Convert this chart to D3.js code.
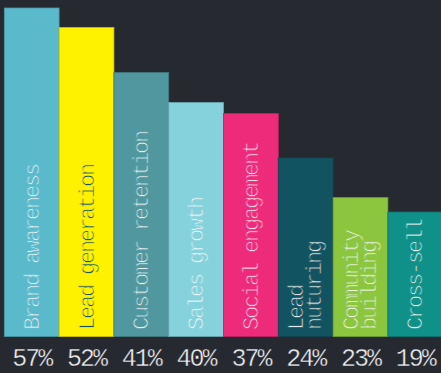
<!DOCTYPE html>
<html>
<head>
<meta charset="utf-8">
<script src="https://cdn.jsdelivr.net/npm/d3@7"></script>
<style>
  html, body { margin: 0; padding: 0; background: #262930; }
  svg { display: block; }
</style>
</head>
<body>
<script>
// ---- data ----
const categories = ["Brand awareness", "Lead generation", "Customer retention", "Sales growth",
  "Social engagement", "Lead\nnuturing", "Community\nbuilding", "Cross-sell"];
// bar heights as drawn (index units)
const barValues = [57, 53.6, 45.8, 40.6, 38.7, 31.0, 24.1, 21.6];
const percentLabels = ["57%", "52%", "41%", "40%", "37%", "24%", "23%", "19%"];
const barColors = ["#5abacb", "#fff200", "#50979f", "#85d2dc", "#ee2a7b", "#125362", "#8cc63f", "#0f9189"];
const labelColors = ["#e4f2f4", "#155566", "#e4f0f0", "#eef8fa", "#f8dbe6", "#dde8ea", "#eef6e2", "#ddf0ee"];

const W = 441, H = 373;
const bg = "#262930";
const svg = d3.select("body").append("svg").attr("width", W).attr("height", H);
svg.append("rect").attr("width", W).attr("height", H).attr("fill", bg);

const x = d3.scaleBand().domain(categories).range([4.3, 442.7]).padding(0);
const y = d3.scaleLinear().domain([0, 57]).range([336.5, 8]);

const g = svg.append("g");
g.selectAll("rect.bar")
  .data(categories)
  .join("rect")
  .attr("class", "bar")
  .attr("x", d => x(d))
  .attr("y", (d, i) => y(barValues[i]))
  .attr("width", x.bandwidth())
  .attr("height", (d, i) => y(0) - y(barValues[i]))
  .attr("fill", (d, i) => barColors[i])
  .attr("stroke", (d, i) => d3.color(barColors[i]).darker(0.6))
  .attr("stroke-width", 0.8);

// rotated labels inside bars
const lineH = 17.8;
categories.forEach((c, i) => {
  const lines = c.split("\n");
  const cx = x(c) + x.bandwidth() / 2;
  const first = lines.length === 1 ? 7 : -2.5;
  const t = g.append("text")
    .attr("transform", `translate(${cx + first},330) rotate(-90)`)
    .attr("font-family", "'Liberation Mono', monospace")
    .attr("font-size", 22)
    .attr("letter-spacing", -2.2)
    .attr("fill", labelColors[i])
    .attr("stroke", barColors[i])
    .attr("stroke-width", 0.8)
    .attr("paint-order", "fill")
    .attr("text-anchor", "start");
  lines.forEach((l, j) => {
    t.append("tspan").attr("x", 0).attr("y", j * lineH).text(l);
  });
});

// percent labels
g.selectAll("text.pct")
  .data(categories)
  .join("text")
  .attr("class", "pct")
  .attr("x", d => x(d) + x.bandwidth() / 2)
  .attr("y", 365.5)
  .attr("text-anchor", "middle")
  .attr("font-family", "'Liberation Mono', monospace")
  .attr("font-size", 25)
  .attr("letter-spacing", -2)
  .attr("fill", "#eeeff0")
  .attr("stroke", bg)
  .attr("stroke-width", 0.4)
  .attr("paint-order", "fill")
  .text((d, i) => percentLabels[i]);
</script>
</body>
</html>
